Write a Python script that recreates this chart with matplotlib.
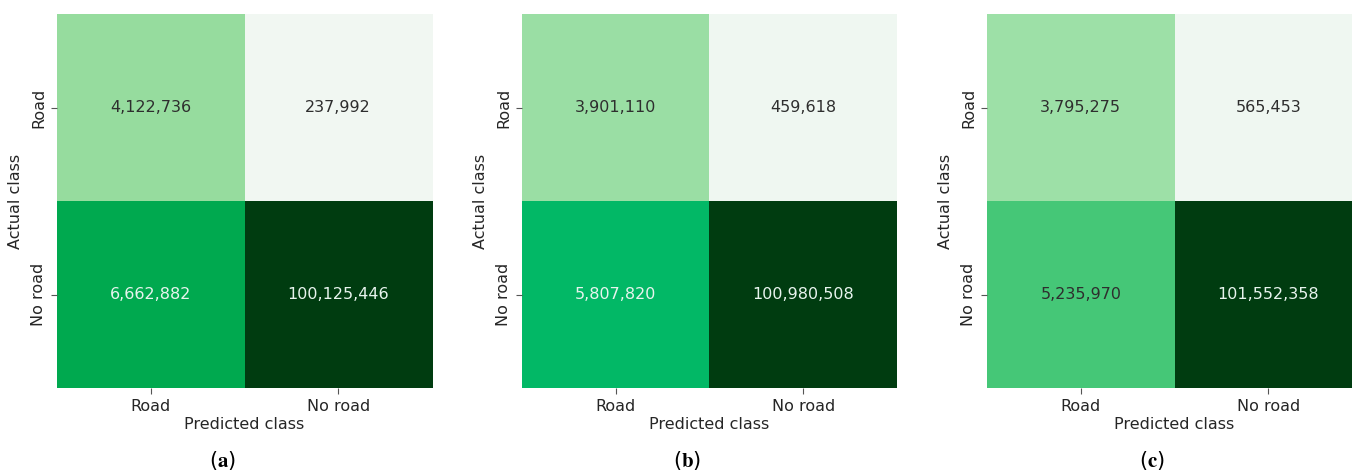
import matplotlib
matplotlib.use("Agg")
import matplotlib.pyplot as plt
import numpy as np
from matplotlib.colors import LinearSegmentedColormap, LogNorm

classes = ["Road", "No road"]
panel_tags = ["a", "b", "c"]

# rows = actual class, cols = predicted class
cm_a = [[4122736, 237992], [6662882, 100125446]]
cm_b = [[3901110, 459618], [5807820, 100980508]]
cm_c = [[3795275, 565453], [5235970, 101552358]]
matrices = [cm_a, cm_b, cm_c]

# shared log colour scale, hand tuned green ramp
norm = LogNorm(vmin=2.0e5, vmax=1.05e8)
stops = [
    (2.0e5, "#f2f8f3"),
    (6.0e5, "#eff7f1"),
    (3.7e6, "#a0e2ab"),
    (4.12e6, "#96dc9e"),
    (5.24e6, "#46c878"),
    (5.81e6, "#00b866"),
    (6.66e6, "#00aa50"),
    (1.05e8, "#003c10"),
]
cmap = LinearSegmentedColormap.from_list(
    "roadgreens", [(float(norm(v)), c) for v, c in stops])


def rel_lum(rgb):
    c = np.array(rgb[:3])
    c = np.where(c <= 0.03928, c / 12.92, ((c + 0.055) / 1.055) ** 2.4)
    return 0.2126 * c[0] + 0.7152 * c[1] + 0.0722 * c[2]


plt.rcParams["font.family"] = "DejaVu Sans"
plt.rcParams["mathtext.fontset"] = "stix"

fig = plt.figure(figsize=(13.52, 4.72), dpi=100)

lefts = [57, 522, 987]
for k, (cm, tag) in enumerate(zip(matrices, panel_tags)):
    data = np.array(cm, dtype=float)
    ax = fig.add_axes([lefts[k] / 1352, 1 - 388 / 472, 375 / 1352, 374 / 472])
    ax.imshow(data, cmap=cmap, norm=norm, aspect="auto")
    for i in range(2):
        for j in range(2):
            lum = rel_lum(cmap(norm(data[i, j])))
            col = "#2e2e2e" if lum > 0.408 else "#e8f4ee"
            ax.text(j, i, f"{int(data[i, j]):,}", ha="center", va="center",
                    fontsize=11.5, color=col)
    ax.set_xticks(range(2))
    ax.set_xticklabels(classes, fontsize=11.5, color="#262626")
    ax.set_yticks(range(2))
    ax.set_yticklabels(classes, fontsize=11.5, color="#262626",
                       rotation=90, va="center")
    ax.tick_params(length=4, color="#555555", pad=4)
    for s in ax.spines.values():
        s.set_visible(False)
    ax.set_xlabel("Predicted class", fontsize=11.5, color="#262626", labelpad=2)
    ax.set_ylabel("Actual class", fontsize=11.5, color="#262626", labelpad=6)
    cx = (lefts[k] + 187 - 22) / 1352
    fig.text(cx, 1 - 460 / 472, r"($\mathbf{" + tag + "}$)",
             ha="center", va="center", fontsize=15, color="black")

fig.savefig("out.png", dpi=100)
